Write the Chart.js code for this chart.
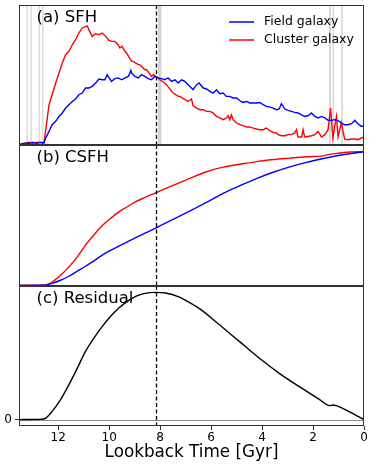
<!DOCTYPE html>
<html><head><meta charset="utf-8">
<script src="https://cdn.jsdelivr.net/npm/chart.js@4.4.1/dist/chart.umd.min.js"></script>
<style>
html,body{margin:0;padding:0;background:#fff;}
#wrap{position:relative;width:374px;height:469px;}
canvas{position:absolute;left:0;top:0;}
</style></head><body>
<div id="wrap">
<canvas id="cA" width="374" height="469"></canvas>
<canvas id="cB" width="374" height="469"></canvas>
<canvas id="cC" width="374" height="469"></canvas>
</div>
<script>
// ---------------- data ----------------
const X_MIN = 0, X_MAX = 13.54;
const MARK_T = 8.17;
const xTicks = [0, 2, 4, 6, 8, 10, 12];
const residualTicks = [0];
const xTitle = 'Lookback Time [Gyr]';
const panelLabels = ['(a) SFH', '(b) CSFH', '(c) Residual'];
const seriesNames = ['Field galaxy', 'Cluster galaxy'];
const seriesColors = ['#0000ff', '#ff0000'];
const snapshotSpans = [[13.24,13.20],[13.09,13.05],[12.77,12.73],[12.63,12.59],[8.08,7.95],[1.37,1.30],[1.23,1.21],[0.89,0.83]];

const fieldSfhTime = [13.5,13.3,13.15,13.0,12.85,12.7,12.56,12.49,12.36,12.24,12.10,11.97,11.84,11.71,11.58,11.45,11.32,11.19,11.06,10.93,10.80,10.67,10.53,10.40,10.27,10.17,10.08,10.04,9.91,9.78,9.65,9.51,9.38,9.25,9.15,9.12,8.99,8.86,8.73,8.60,8.47,8.34,8.21,8.08,7.95,7.82,7.69,7.55,7.42,7.29,7.16,7.03,6.90,6.77,6.71,6.57,6.47,6.31,6.18,6.05,5.92,5.79,5.66,5.53,5.40,5.27,5.14,5.00,4.87,4.75,4.61,4.48,4.35,4.22,4.09,3.96,3.83,3.70,3.57,3.44,3.33,3.24,3.11,2.98,2.85,2.72,2.59,2.45,2.33,2.20,2.06,1.93,1.80,1.67,1.54,1.41,1.28,1.15,1.02,0.89,0.76,0.63,0.49,0.36,0.24,0.10,0.0];
const fieldSfh = [0.005,0.015,0.01,0.02,0.01,0.02,0.015,0.05,0.097,0.145,0.169,0.204,0.229,0.264,0.288,0.311,0.329,0.359,0.371,0.407,0.407,0.419,0.443,0.471,0.466,0.466,0.502,0.49,0.454,0.474,0.479,0.466,0.479,0.49,0.533,0.514,0.49,0.479,0.502,0.49,0.474,0.466,0.49,0.479,0.474,0.466,0.479,0.454,0.466,0.443,0.466,0.454,0.431,0.407,0.395,0.431,0.443,0.407,0.40,0.383,0.371,0.395,0.366,0.371,0.347,0.347,0.336,0.336,0.316,0.304,0.311,0.30,0.30,0.30,0.304,0.288,0.276,0.271,0.264,0.252,0.257,0.295,0.257,0.247,0.24,0.233,0.229,0.216,0.204,0.209,0.229,0.204,0.193,0.204,0.193,0.176,0.176,0.181,0.174,0.157,0.145,0.145,0.152,0.176,0.152,0.133,0.138];

const clusterSfhTime = [13.5,13.3,13.15,13.0,12.85,12.7,12.56,12.49,12.36,12.24,12.10,11.97,11.84,11.71,11.58,11.45,11.32,11.19,11.06,10.93,10.86,10.80,10.67,10.53,10.40,10.27,10.14,10.01,9.91,9.78,9.65,9.58,9.50,9.38,9.32,9.12,9.06,8.86,8.80,8.60,8.53,8.34,8.27,8.08,8.01,7.82,7.75,7.55,7.49,7.29,7.23,7.03,6.90,6.77,6.71,6.57,6.44,6.31,6.18,6.05,5.92,5.79,5.66,5.53,5.40,5.33,5.27,5.20,5.14,5.00,4.87,4.75,4.61,4.48,4.35,4.22,4.09,3.96,3.83,3.70,3.57,3.44,3.37,3.24,3.11,2.98,2.85,2.72,2.65,2.59,2.45,2.39,2.33,2.20,2.06,1.93,1.80,1.67,1.54,1.41,1.31,1.22,1.15,1.08,1.02,0.89,0.76,0.63,0.49,0.36,0.24,0.10,0.0];
const clusterSfh = [0.005,0.01,0.02,0.01,0.02,0.015,0.014,0.109,0.288,0.359,0.443,0.514,0.586,0.645,0.669,0.716,0.752,0.80,0.836,0.845,0.85,0.824,0.776,0.795,0.788,0.80,0.776,0.747,0.74,0.74,0.716,0.693,0.705,0.669,0.657,0.597,0.597,0.574,0.574,0.538,0.538,0.49,0.502,0.479,0.466,0.443,0.431,0.383,0.371,0.347,0.347,0.324,0.311,0.329,0.281,0.264,0.252,0.252,0.24,0.24,0.229,0.204,0.193,0.181,0.193,0.21,0.18,0.215,0.181,0.157,0.145,0.138,0.129,0.129,0.121,0.114,0.109,0.109,0.121,0.102,0.09,0.086,0.074,0.066,0.066,0.074,0.074,0.086,0.109,0.057,0.057,0.109,0.057,0.061,0.066,0.074,0.097,0.057,0.074,0.109,0.264,0.05,0.133,0.204,0.057,0.157,0.043,0.038,0.043,0.043,0.038,0.05,0.057];

const csfhTime = [13.54,12.52,12.24,11.91,11.58,11.25,10.93,10.60,10.27,9.95,9.62,9.29,8.96,8.57,8.18,7.66,7.14,6.84,6.18,5.53,4.87,4.22,3.57,2.91,2.26,1.61,1.30,0.95,0.69,0];
const fieldCsfh = [0,0.001,0.015,0.038,0.068,0.106,0.143,0.183,0.226,0.261,0.294,0.326,0.357,0.393,0.428,0.478,0.527,0.556,0.62,0.688,0.746,0.799,0.846,0.886,0.92,0.948,0.96,0.973,0.981,1.0];
const clusterCsfh = [0,0.003,0.025,0.075,0.138,0.213,0.301,0.377,0.447,0.50,0.55,0.588,0.626,0.66,0.692,0.735,0.776,0.80,0.85,0.884,0.906,0.926,0.941,0.952,0.962,0.969,0.982,0.99,0.996,1.0];

const residualTime = [13.54,12.8,12.56,12.24,11.91,11.58,11.25,10.93,10.60,10.27,9.95,9.62,9.29,8.96,8.64,8.18,7.79,7.27,6.84,6.44,5.66,4.87,4.09,3.31,2.52,1.74,1.35,1.22,0.82,0.43,0];
const residual = [0,0.002,0.005,0.065,0.157,0.275,0.405,0.536,0.641,0.733,0.811,0.877,0.929,0.969,0.99,1.0,0.995,0.965,0.92,0.87,0.743,0.611,0.48,0.362,0.257,0.157,0.11,0.115,0.087,0.047,0];

// ---------------- helpers ----------------
const FONT = '"DejaVu Sans", Verdana, sans-serif';
const pts = (ts, vs) => ts.map((t, i) => ({x: t, y: vs[i]}));

const deco = {
  id: 'deco',
  beforeDatasetsDraw(chart, args, o) {
    const {ctx, chartArea: a, scales: {x, y}} = chart;
    ctx.save();
    if (o.spans) {
      ctx.fillStyle = 'rgba(175,175,175,0.55)';
      o.spans.forEach(([t1, t2]) => {
        const p1 = x.getPixelForValue(t1), p2 = x.getPixelForValue(t2);
        ctx.fillRect(Math.min(p1, p2), a.top, Math.max(Math.abs(p2 - p1), 1.2), a.bottom - a.top);
      });
    }
    if (o.zeroLine) {
      const py = Math.round(y.getPixelForValue(0)) + 0.5;
      ctx.strokeStyle = '#8c8c8c'; ctx.lineWidth = 1;
      ctx.beginPath(); ctx.moveTo(a.left, py); ctx.lineTo(a.right, py); ctx.stroke();
    }
    ctx.fillStyle = '#000';
    ctx.font = '16.5px ' + FONT;
    ctx.textBaseline = 'middle'; ctx.textAlign = 'left';
    ctx.fillText(o.label, 36.5, a.top + 13);
    ctx.restore();
  },
  afterDatasetsDraw(chart, args, o) {
    const {ctx, chartArea: a, scales: {x}} = chart;
    ctx.save();
    const px = Math.round(x.getPixelForValue(MARK_T)) + 0.5;
    ctx.strokeStyle = '#000'; ctx.lineWidth = 1.3; ctx.setLineDash([4, 2.5]);
    ctx.beginPath(); ctx.moveTo(px, a.top); ctx.lineTo(px, a.bottom); ctx.stroke();
    ctx.setLineDash([]);
    ctx.strokeStyle = '#333'; ctx.lineWidth = 1;
    ctx.strokeRect(a.left + 0.5, a.top + 0.5, a.right - a.left - 1, a.bottom - a.top - 1);
    if (o.legend) {
      ctx.font = '12.5px ' + FONT; ctx.textBaseline = 'middle';
      chart.data.datasets.forEach((d, i) => {
        const yy = a.top + 17 + i * 18;
        ctx.strokeStyle = d.borderColor; ctx.lineWidth = 1.5;
        ctx.beginPath(); ctx.moveTo(229, yy); ctx.lineTo(254, yy); ctx.stroke();
        ctx.fillStyle = '#000'; ctx.fillText(d.label, 264, yy);
      });
    }
    ctx.restore();
  }
};
Chart.register(deco);

function baseOpts(padding, yMin, yMax, decoOpts) {
  return {
    responsive: false, animation: false, devicePixelRatio: 1,
    layout: {padding},
    elements: {point: {radius: 0}, line: {borderWidth: 1.4}},
    plugins: {legend: {display: false}, tooltip: {enabled: false}, deco: decoOpts},
    scales: {
      x: {type: 'linear', min: X_MIN, max: X_MAX, reverse: true, display: false},
      y: {type: 'linear', min: yMin, max: yMax, display: false}
    }
  };
}

// Panel (a)
new Chart(document.getElementById('cA'), {
  type: 'line',
  data: {datasets: [
    {label: seriesNames[0], data: pts(fieldSfhTime, fieldSfh), borderColor: seriesColors[0], tension: 0},
    {label: seriesNames[1], data: pts(clusterSfhTime, clusterSfh), borderColor: seriesColors[1], tension: 0}
  ]},
  options: baseOpts({left: 19, right: 10, top: 5, bottom: 469 - 145}, 0, 1, {label: panelLabels[0], spans: snapshotSpans, legend: true})
});

// Panel (b)
new Chart(document.getElementById('cB'), {
  type: 'line',
  data: {datasets: [
    {label: seriesNames[0], data: pts(csfhTime, fieldCsfh), borderColor: seriesColors[0], cubicInterpolationMode: 'monotone'},
    {label: seriesNames[1], data: pts(csfhTime, clusterCsfh), borderColor: seriesColors[1], cubicInterpolationMode: 'monotone'}
  ]},
  options: baseOpts({left: 19, right: 10, top: 145, bottom: 469 - 286}, -0.005, 1.05, {label: panelLabels[1]})
});

// Panel (c)
const optsC = baseOpts({left: 0, right: 10, top: 286, bottom: 0}, -0.05, 1.05, {label: panelLabels[2], zeroLine: true});
optsC.scales.x = {
  type: 'linear', min: X_MIN, max: X_MAX, reverse: true, display: true,
  afterFit: s => { s.height = 43; },
  afterBuildTicks: s => { s.ticks = xTicks.map(v => ({value: v})); },
  ticks: {color: '#000', font: {family: FONT, size: 12}, padding: 1, maxRotation: 0, autoSkip: false, callback: v => String(v)},
  grid: {display: true, drawOnChartArea: false, drawTicks: true, tickLength: 4, color: '#333'},
  border: {display: false},
  title: {display: true, text: xTitle, color: '#000', font: {family: FONT, size: 16.8}, padding: {top: 6, bottom: 6}}
};
optsC.scales.y = {
  type: 'linear', min: -0.05, max: 1.05, display: true,
  afterFit: s => { s.width = 19; },
  afterBuildTicks: s => { s.ticks = residualTicks.map(v => ({value: v})); },
  ticks: {color: '#000', font: {family: FONT, size: 12}, padding: 3, callback: v => String(v)},
  grid: {display: true, drawOnChartArea: false, drawTicks: true, tickLength: 4, color: '#333'},
  border: {display: false}
};
new Chart(document.getElementById('cC'), {
  type: 'line',
  data: {datasets: [
    {label: 'Residual', data: pts(residualTime, residual), borderColor: '#000', cubicInterpolationMode: 'monotone'}
  ]},
  options: optsC
});
</script>
</body></html>
